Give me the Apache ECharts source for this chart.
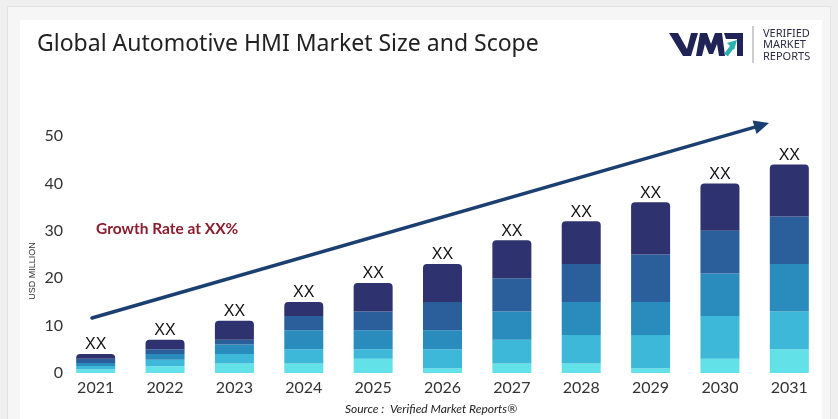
<!DOCTYPE html>
<html>
<head>
<meta charset="utf-8">
<script src="https://cdn.jsdelivr.net/npm/echarts@6/dist/echarts.min.js"></script>
<style>
  html, body { margin: 0; padding: 0; width: 838px; height: 419px; overflow: hidden; background: #efefef; }
  #outer { position: absolute; left: 7px; top: 6px; width: 824px; height: 420px; border: 1px solid #e2e2e2; background: #f6f6f6; box-sizing: border-box; }
  #card { position: absolute; left: 20px; top: 20px; width: 802px; height: 400px; background: #ffffff; }
  #chart { position: absolute; left: 0; top: 0; width: 838px; height: 419px; }
</style>
</head>
<body>
<div id="outer"></div>
<div id="card"></div>
<div id="chart"></div>
<script>
// ---- data ----
const years = ['2021','2022','2023','2024','2025','2026','2027','2028','2029','2030','2031'];
const seg1 = [0.8, 1.4, 2, 2, 3, 1, 2, 2, 1, 3, 5];
const seg2 = [0.7, 1.4, 2, 3, 2, 4, 5, 6, 7, 9, 8];
const seg3 = [0.6, 1.2, 2, 4, 4, 4, 6, 7, 7, 9, 10];
const seg4 = [0.9, 1.0, 1, 3, 4, 6, 7, 8, 10, 9, 10];
const seg5 = [1.0, 2.0, 4, 3, 6, 8, 8, 9, 11, 10, 11];
const yTicks = [0, 10, 20, 30, 40, 50];
const barLabel = 'XX';

const colors = ['#62e2e8', '#3db8d8', '#2a8bbd', '#2b5f9b', '#2e336f'];
const segs = [seg1, seg2, seg3, seg4, seg5];

const chart = echarts.init(document.getElementById('chart'), null, { renderer: 'canvas' });

const series = segs.map((d, i) => ({
  type: 'bar',
  stack: 'total',
  data: d,
  barWidth: 39,
  itemStyle: { color: colors[i], borderRadius: i === 4 ? [4, 4, 0, 0] : 0 },
  label: i === 4 ? {
    show: true, position: 'top', distance: 1, formatter: barLabel,
    color: '#111', fontSize: 16, fontFamily: 'Liberation Sans'
  } : { show: false },
  emphasis: { disabled: true },
  silent: true
}));

// arrow geometry (decorative annotation)
const ax0 = 92, ay0 = 318, tx = 769, ty = 123;
const dx = tx - ax0, dy = ty - ay0, L = Math.hypot(dx, dy);
const ux = dx / L, uy = dy / L, nx = -uy, ny = ux;
const hl = 15, hw = 7;
const bx = tx - hl * ux, by = ty - hl * uy;

chart.setOption({
  animation: false,
  backgroundColor: 'transparent',
  grid: { left: 61, right: 14, top: 136, bottom: 46, containLabel: false },
  xAxis: {
    type: 'category',
    data: years,
    axisLine: { show: false },
    axisTick: { show: false },
    axisLabel: { color: '#333', fontSize: 16, fontFamily: 'Lato', margin: 7 }
  },
  yAxis: {
    type: 'value',
    min: 0, max: 50, interval: 10,
    axisLine: { show: false },
    axisTick: { show: false },
    splitLine: { show: false },
    axisLabel: {
      color: '#333', fontSize: 16, fontFamily: 'Lato', margin: -2,
      formatter: v => yTicks.includes(v) ? String(v) : ''
    }
  },
  series: series,
  graphic: [
    { type: 'text', left: 37, top: 33, style: { text: 'Global Automotive HMI Market Size and Scope', fill: '#222', fontSize: 23, fontFamily: 'Noto Sans', fontWeight: 'normal' } },
    { type: 'text', left: 96, top: 221, style: { text: 'Growth Rate at XX%', fill: '#8b1c2e', fontSize: 15.5, fontWeight: 'bold', fontFamily: 'Lato' } },
    { type: 'text', x: 33, y: 271, rotation: Math.PI / 2, style: { text: 'USD MILLION', fill: '#333', fontSize: 9, fontFamily: 'Liberation Sans', align: 'center', verticalAlign: 'middle' } },
    { type: 'text', x: 431, y: 409, style: { text: 'Source :  Verified Market Reports\u00AE', fill: '#222', fontSize: 12, fontStyle: 'italic', fontFamily: 'Lato', align: 'center', verticalAlign: 'middle' } },
    // arrow
    { type: 'line', shape: { x1: ax0, y1: ay0, x2: bx + 2 * ux, y2: by + 2 * uy }, style: { stroke: '#1c3f72', lineWidth: 3.5, lineCap: 'round' } },
    { type: 'polygon', shape: { points: [[tx, ty], [bx + hw * nx, by + hw * ny], [bx - hw * nx, by - hw * ny]] }, style: { fill: '#1c3f72' } },
    // logo
    { type: 'polygon', shape: { points: [[669,33],[678,33],[687,49],[691,33],[698,33],[691,56],[683,56]] }, style: { fill: '#1f2356' } },
    { type: 'polygon', shape: { points: [[696,56],[700,33],[707,33],[711,44],[715,33],[722,33],[725,56],[719,56],[717,44],[713,54],[709,54],[705,44],[702,56]] }, style: { fill: '#1f2356' } },
    { type: 'polygon', shape: { points: [[724,33],[743,33],[743,56],[737,56],[737,39],[726,39]] }, style: { fill: '#1f2356' } },
    { type: 'line', shape: { x1: 726, y1: 55, x2: 732, y2: 47 }, style: { stroke: '#27b1b1', lineWidth: 4.5 } },
    { type: 'polygon', shape: { points: [[737,40],[727,43],[734,50]] }, style: { fill: '#27b1b1' } },
    { type: 'line', shape: { x1: 753, y1: 26, x2: 753, y2: 63 }, style: { stroke: '#9a9a9a', lineWidth: 1 } },
    { type: 'text', left: 763, top: 28, style: { text: 'VERIFIED\nMARKET\nREPORTS', fill: '#2b2b45', fontSize: 11, lineHeight: 11.5, fontFamily: 'Noto Sans' } }
  ]
});
</script>
</body>
</html>
